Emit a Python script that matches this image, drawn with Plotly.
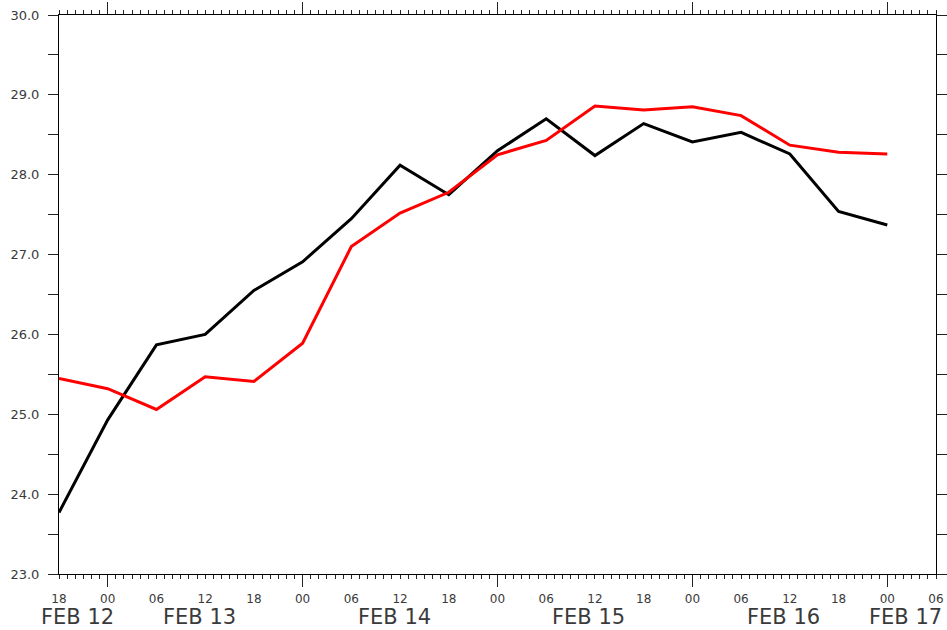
import plotly.graph_objects as go

# Valid times, every 6 hours from 12 Feb 18Z
times = ["2024-02-12 18:00", "2024-02-13 00:00", "2024-02-13 06:00", "2024-02-13 12:00",
         "2024-02-13 18:00", "2024-02-14 00:00", "2024-02-14 06:00", "2024-02-14 12:00",
         "2024-02-14 18:00", "2024-02-15 00:00", "2024-02-15 06:00", "2024-02-15 12:00",
         "2024-02-15 18:00", "2024-02-16 00:00", "2024-02-16 06:00", "2024-02-16 12:00",
         "2024-02-16 18:00", "2024-02-17 00:00"]

series_black = [23.77, 24.93, 25.87, 26.00, 26.55, 26.91, 27.45, 28.12, 27.75,
                28.30, 28.70, 28.24, 28.64, 28.41, 28.53, 28.26, 27.54, 27.37]
series_red = [25.45, 25.32, 25.06, 25.47, 25.41, 25.89, 27.10, 27.52, 27.78,
              28.25, 28.43, 28.86, 28.81, 28.85, 28.74, 28.37, 28.28, 28.26]

x_range = ["2024-02-12 18:00", "2024-02-17 06:00"]
day_names = ["FEB 12", "FEB 13", "FEB 14", "FEB 15", "FEB 16", "FEB 17"]
day_label_times = ["2024-02-12 21:00", "2024-02-13 12:00", "2024-02-14 12:00",
                   "2024-02-15 12:00", "2024-02-16 12:00", "2024-02-17 03:00"]

HOUR = 3600 * 1000
FONT = "DejaVu Sans"
TXT = "#3a3a3a"
TICK = "#222"

fig = go.Figure()
fig.add_trace(go.Scatter(x=times, y=series_black, mode="lines",
                         line=dict(color="#000000", width=3), showlegend=False))
fig.add_trace(go.Scatter(x=times, y=series_red, mode="lines",
                         line=dict(color="#ff0000", width=3), showlegend=False))
# transparent trace that brings up the day-boundary tick axis
fig.add_trace(go.Scatter(x=x_range, y=[23, 23], xaxis="x2", mode="markers",
                         marker=dict(opacity=0), hoverinfo="skip", showlegend=False))

fig.update_layout(
    width=947, height=630,
    margin=dict(l=59, r=11, t=15, b=56),
    paper_bgcolor="white", plot_bgcolor="white",
    font=dict(family=FONT, color=TXT),
    xaxis=dict(
        type="date", range=x_range, tick0="2024-02-12 18:00", dtick=6 * HOUR,
        tickformat="%H", automargin=False,
        ticks="outside", ticklen=4, tickwidth=1, tickcolor=TICK,
        showline=True, linecolor="#000", linewidth=1, mirror="ticks",
        showgrid=False, zeroline=False,
        tickfont=dict(family=FONT, size=12, color=TXT), ticklabelstandoff=10,
        minor=dict(tick0="2024-02-12 18:00", dtick=HOUR, ticks="outside", ticklen=4,
                   tickwidth=1, tickcolor=TICK, showgrid=False),
    ),
    xaxis2=dict(
        type="date", range=x_range, overlaying="x", anchor="y", side="bottom",
        tick0="2024-02-13 00:00", dtick=24 * HOUR, showticklabels=False,
        automargin=False,
        ticks="outside", ticklen=12, tickwidth=1, tickcolor=TICK,
        mirror="ticks", showline=False, showgrid=False, zeroline=False,
    ),
    yaxis=dict(
        range=[23, 30], dtick=1, tick0=23, tickformat=".1f", automargin=False,
        ticks="outside", ticklen=10, tickwidth=1, tickcolor=TICK,
        showline=True, linecolor="#000", linewidth=1, mirror="ticks",
        showgrid=False, zeroline=False,
        tickfont=dict(family=FONT, size=13, color=TXT), ticklabelstandoff=6,
        minor=dict(dtick=0.5, tick0=23, ticks="outside", ticklen=10, tickwidth=1,
                   tickcolor=TICK, showgrid=False),
    ),
)

for name, t in zip(day_names, day_label_times):
    fig.add_annotation(x=t, y=-0.077, xref="x", yref="paper", text=name,
                       showarrow=False, xanchor="center", yanchor="middle",
                       xshift=-6, font=dict(family=FONT, size=21, color=TXT))

fig.write_html("out.html")
